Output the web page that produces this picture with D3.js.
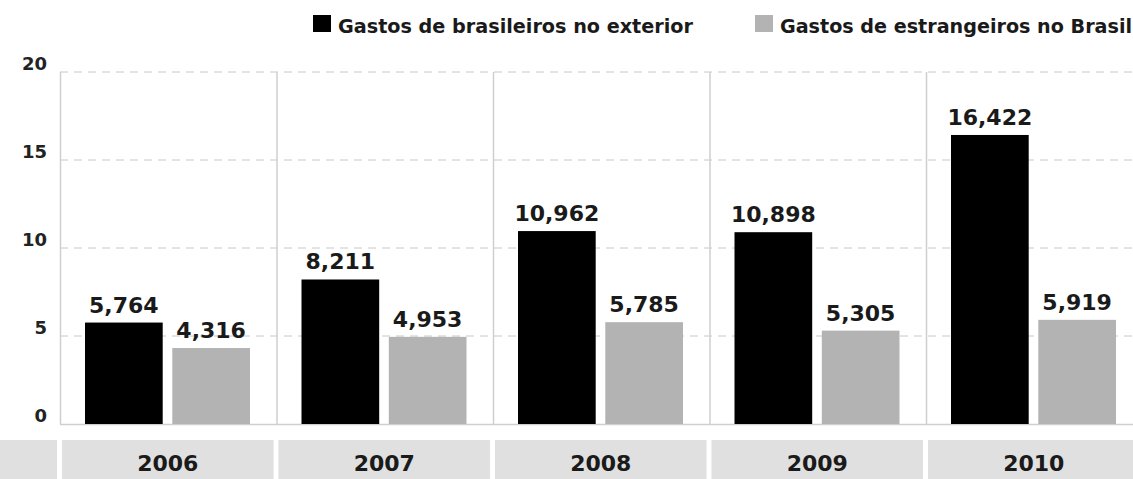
<!DOCTYPE html>
<html>
<head>
<meta charset="utf-8">
<script src="https://cdnjs.cloudflare.com/ajax/libs/d3/7.8.5/d3.min.js"></script>
<style>
  body { margin: 0; background: #fff; }
  svg { display: block; }
  .tick-font { font-family: "DejaVu Sans", sans-serif; font-weight: bold; font-size: 18px; fill: #222; }
  .value-font { font-family: "DejaVu Sans", sans-serif; font-weight: bold; font-size: 22px; fill: #1a1a1a; }
  .year-font { font-family: "DejaVu Sans", sans-serif; font-weight: bold; font-size: 22px; fill: #1a1a1a; }
  .legend-font { font-family: "DejaVu Sans Condensed", "DejaVu Sans", sans-serif; font-weight: bold; font-size: 20px; fill: #1a1a1a; }
</style>
</head>
<body>
<script>
// data (bilhoes de US$)
const years = ["2006", "2007", "2008", "2009", "2010"];
const series = ["Gastos de brasileiros no exterior", "Gastos de estrangeiros no Brasil"];
const brasileiros = [5.764, 8.211, 10.962, 10.898, 16.422];
const estrangeiros = [4.316, 4.953, 5.785, 5.305, 5.919];
const yTicks = [0, 5, 10, 15, 20];
const colors = ["#000000", "#b3b3b3"];

const w = 1133, h = 479;
const left = 60;          // start of plot
const groupW = 216.5;     // width of each year column
const yBase = 424, yTop = 72;

const svg = d3.select("body").append("svg")
  .attr("width", w)
  .attr("height", h);

const x = d3.scaleBand()
  .domain(years)
  .range([left, left + groupW * years.length])
  .padding(0);

const xInner = d3.scaleBand()
  .domain(series)
  .range([25, 190])
  .paddingInner(0.11);

const y = d3.scaleLinear()
  .domain([0, 20])
  .range([yBase, yTop]);

// dashed gridlines
svg.append("g")
  .selectAll("line")
  .data(yTicks.filter(d => d > 0))
  .enter()
  .append("line")
  .attr("x1", left)
  .attr("x2", w)
  .attr("y1", d => y(d))
  .attr("y2", d => y(d))
  .attr("stroke", "#c8c8c8")
  .attr("stroke-width", 1)
  .attr("stroke-dasharray", "8,6");

// vertical separators
svg.append("g")
  .selectAll("line")
  .data(years)
  .enter()
  .append("line")
  .attr("x1", d => x(d) + 0.5)
  .attr("x2", d => x(d) + 0.5)
  .attr("y1", y(20))
  .attr("y2", yBase)
  .attr("stroke", "#cfcfcf")
  .attr("stroke-width", 1.5);

// baseline
svg.append("line")
  .attr("x1", left)
  .attr("x2", w)
  .attr("y1", yBase + 0.5)
  .attr("y2", yBase + 0.5)
  .attr("stroke", "#cfcfcf")
  .attr("stroke-width", 1.5);

// y axis labels
svg.append("g")
  .selectAll("text")
  .data(yTicks)
  .enter()
  .append("text")
  .attr("class", "tick-font")
  .attr("x", 47)
  .attr("y", d => y(d) - 2)
  .attr("text-anchor", "end")
  .text(d => d);

// bars
const rows = years.map((yr, i) => ({ year: yr, values: [brasileiros[i], estrangeiros[i]] }));
const fmt = v => v.toFixed(3).replace(".", ",");

const groups = svg.append("g")
  .selectAll("g")
  .data(rows)
  .enter()
  .append("g")
  .attr("transform", d => "translate(" + x(d.year) + ",0)");

groups.selectAll("rect")
  .data(d => d.values.map((v, j) => ({ s: series[j], v: v, j: j })))
  .enter()
  .append("rect")
  .attr("x", d => xInner(d.s))
  .attr("y", d => y(d.v))
  .attr("width", xInner.bandwidth())
  .attr("height", d => yBase - y(d.v))
  .attr("fill", d => colors[d.j]);

groups.selectAll("text")
  .data(d => d.values.map((v, j) => ({ s: series[j], v: v, j: j })))
  .enter()
  .append("text")
  .attr("class", "value-font")
  .attr("x", d => xInner(d.s) + xInner.bandwidth() / 2)
  .attr("y", d => y(d.v) - 10)
  .attr("text-anchor", "middle")
  .text(d => fmt(d.v));

// category band at the bottom
svg.append("rect")
  .attr("x", 0)
  .attr("y", 440)
  .attr("width", 57)
  .attr("height", h - 440)
  .attr("fill", "#e0e0e0");

svg.append("g")
  .selectAll("rect")
  .data(years)
  .enter()
  .append("rect")
  .attr("x", d => x(d) + 2)
  .attr("y", 440)
  .attr("width", x.bandwidth() - 5)
  .attr("height", h - 440)
  .attr("fill", "#e0e0e0");

svg.append("g")
  .selectAll("text")
  .data(years)
  .enter()
  .append("text")
  .attr("class", "year-font")
  .attr("x", d => x(d) + 2 + (x.bandwidth() - 5) / 2)
  .attr("y", 471)
  .attr("text-anchor", "middle")
  .text(d => d);

// legend
const legendX = [313, 755];
const legendW = [355, 352];
const legend = svg.append("g")
  .selectAll("g")
  .data(series)
  .enter()
  .append("g")
  .attr("transform", (d, i) => "translate(" + legendX[i] + ",15)");

legend.append("rect")
  .attr("width", 18)
  .attr("height", 17)
  .attr("fill", (d, i) => colors[i]);

legend.append("text")
  .attr("class", "legend-font")
  .attr("x", (d, i) => i === 0 ? 25 : 25)
  .attr("y", 18)
  .attr("textLength", (d, i) => legendW[i])
  .attr("lengthAdjust", "spacingAndGlyphs")
  .text(d => d);
</script>
</body>
</html>
